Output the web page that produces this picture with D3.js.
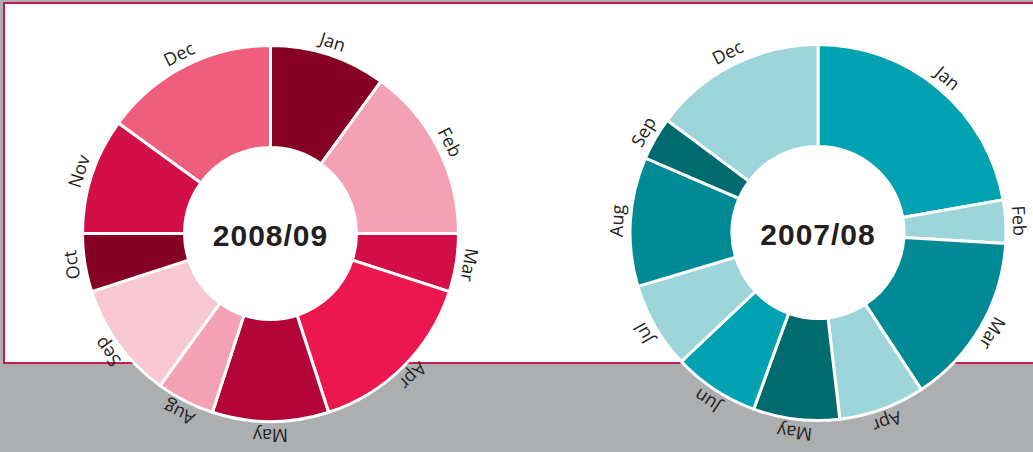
<!DOCTYPE html>
<html>
<head>
<meta charset="utf-8">
<script src="https://cdn.jsdelivr.net/npm/d3@7"></script>
<style>
  html, body { margin: 0; padding: 0; background: #adaeb0; }
  svg { display: block; }
</style>
</head>
<body>
<svg id="chart" width="1033" height="452"></svg>
<script>
// ---- data ----
const titles = ["2008/09", "2007/08"];
const months0809 = ["Jan", "Feb", "Mar", "Apr", "May", "Aug", "Sep", "Oct", "Nov", "Dec"];
const values0809 = [2, 3, 1, 3, 2, 1, 2, 1, 2, 3];
const months0708 = ["Jan", "Feb", "Mar", "Apr", "May", "Jun", "Jul", "Aug", "Sep", "Dec"];
const values0708 = [6, 1, 4, 2, 2, 2, 2, 3, 1, 4];

// ---- styles ----
const palette0809 = ["#850024", "#f4a0b5", "#d20f46", "#ec174f", "#b30538",
                     "#f4a0b5", "#f8c8d4", "#850024", "#d20f46", "#ef5f7d"];
const palette0708 = ["#00a1b1", "#9cd6da", "#008a96", "#9cd6da", "#006b6e",
                     "#00a1b1", "#9cd6da", "#008a96", "#006b6e", "#9cd6da"];

const svg = d3.select("#chart");

svg.append("rect")
  .attr("x", 4).attr("y", 3)
  .attr("width", 1045).attr("height", 360)
  .attr("fill", "#ffffff")
  .attr("stroke", "#c41e4f")
  .attr("stroke-width", 2);

const outerR = 188, innerR = 86;
const pie = d3.pie().sort(null).value(d => d.value);
const arc = d3.arc().innerRadius(innerR).outerRadius(outerR);

function donut(cx, cy, months, values, palette, title) {
  const data = months.map((m, i) => ({ month: m, value: values[i], color: palette[i] }));
  const arcs = pie(data);
  const g = svg.append("g").attr("transform", `translate(${cx},${cy})`);

  g.selectAll("path.seg")
    .data(arcs)
    .join("path")
    .attr("class", "seg")
    .attr("d", arc)
    .attr("fill", d => d.data.color)
    .attr("stroke", "#ffffff")
    .attr("stroke-width", 3)
    .attr("stroke-linejoin", "miter");

  g.selectAll("text.lbl")
    .data(arcs)
    .join("text")
    .attr("class", "lbl")
    .attr("transform", d => `rotate(${(d.startAngle + d.endAngle) / 2 * 180 / Math.PI})`)
    .attr("x", 0)
    .attr("y", -(outerR + 7))
    .attr("text-anchor", "middle")
    .attr("font-family", "'Open Sans', 'Noto Sans', sans-serif")
    .attr("font-size", 18)
    .attr("fill", "#231f20")
    .text(d => d.data.month);

  g.append("text")
    .attr("x", 0).attr("y", 2)
    .attr("dy", "0.36em")
    .attr("text-anchor", "middle")
    .attr("font-family", "'Liberation Sans', Arial, sans-serif")
    .attr("font-weight", "bold")
    .attr("font-size", 30)
    .attr("letter-spacing", 1)
    .attr("fill", "#231f20")
    .text(title);
}

donut(270.5, 233.5, months0809, values0809, palette0809, titles[0]);
donut(818, 232.5, months0708, values0708, palette0708, titles[1]);
</script>
</body>
</html>
